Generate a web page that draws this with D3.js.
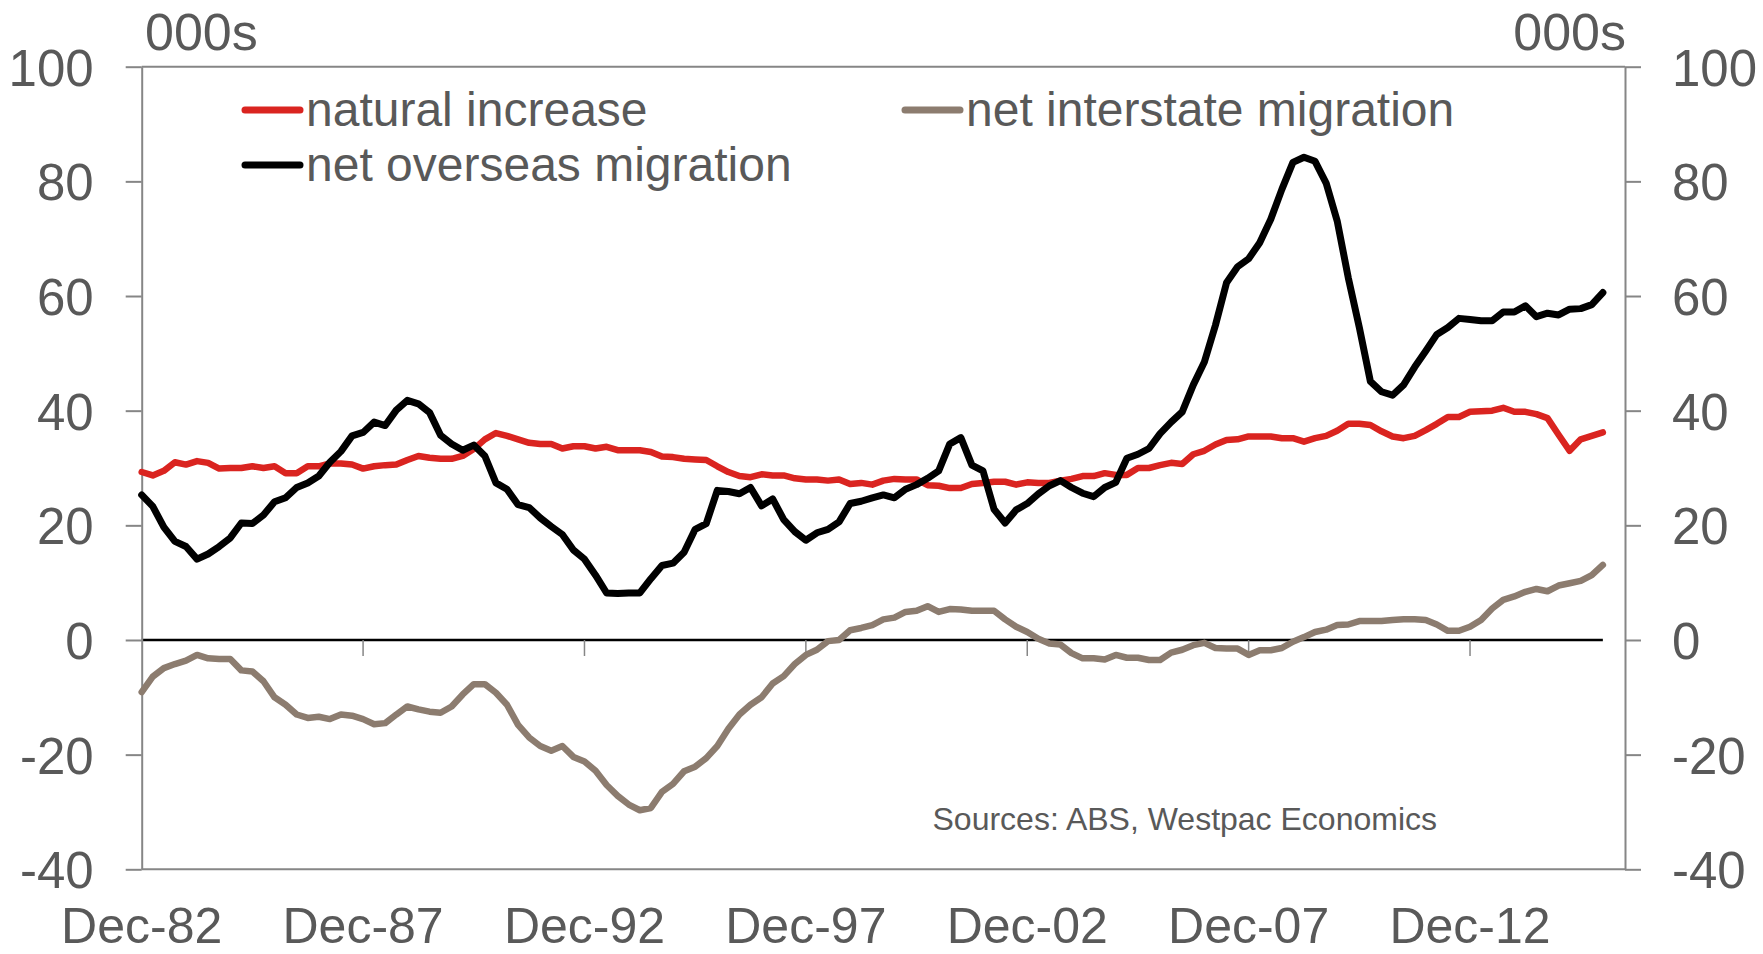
<!DOCTYPE html>
<html>
<head>
<meta charset="utf-8">
<script src="https://cdn.jsdelivr.net/npm/d3@7"></script>
<style>
  html, body { margin: 0; padding: 0; background: #ffffff; }
  svg { display: block; }
  text { font-family: "Liberation Sans", Arial, sans-serif; fill: #595959; }
</style>
</head>
<body>
<svg id="chart" width="1763" height="954"></svg>
<script>
// ---------- DATA (quarterly, Dec-82 .. Dec-15, thousands) ----------
const categories = d3.timeMonth.range(new Date(1982, 11, 1), new Date(2016, 0, 1), 3);

const naturalIncrease = [
  29.3, 28.7, 29.5, 31.0, 30.6, 31.2, 30.9, 29.9, 30.0, 30.0,
  30.3, 30.0, 30.3, 29.1, 29.1, 30.3, 30.3, 30.8, 30.8, 30.6,
  29.9, 30.3, 30.5, 30.6, 31.4, 32.1, 31.8, 31.6, 31.6, 32.1,
  33.3, 35.0, 36.1, 35.6, 35.0, 34.4, 34.2, 34.2, 33.4, 33.8,
  33.8, 33.4, 33.7, 33.1, 33.1, 33.1, 32.8, 32.0, 31.9, 31.6,
  31.5, 31.4, 30.3, 29.3, 28.6, 28.4, 28.9, 28.7, 28.7, 28.2,
  28.0, 28.0, 27.8, 28.0, 27.2, 27.4, 27.1, 27.8, 28.1, 28.0,
  28.0, 27.0, 26.9, 26.5, 26.5, 27.2, 27.4, 27.6, 27.6, 27.1,
  27.5, 27.4, 27.4, 27.8, 28.1, 28.6, 28.6, 29.1, 28.8, 28.8,
  30.0, 30.0, 30.5, 30.9, 30.7, 32.4, 33.0, 34.1, 34.9, 35.0,
  35.5, 35.5, 35.5, 35.2, 35.2, 34.6, 35.2, 35.6, 36.5, 37.7,
  37.7, 37.5, 36.4, 35.5, 35.2, 35.6, 36.6, 37.7, 38.9, 38.9,
  39.8, 39.9, 40.0, 40.5, 39.8, 39.8, 39.4, 38.7, 35.8, 33.0,
  35.0, 35.6, 36.2
];

const netInterstate = [
  -9.1, -6.4, -4.9, -4.2, -3.6, -2.6, -3.2, -3.3, -3.3, -5.3,
  -5.5, -7.2, -10.0, -11.3, -13.0, -13.6, -13.4, -13.8, -13.0, -13.2,
  -13.8, -14.7, -14.5, -13.0, -11.6, -12.1, -12.5, -12.7, -11.6, -9.5,
  -7.7, -7.7, -9.2, -11.3, -14.8, -17.0, -18.5, -19.3, -18.5, -20.4,
  -21.2, -22.8, -25.3, -27.2, -28.7, -29.7, -29.3, -26.5, -25.1, -22.9,
  -22.1, -20.6, -18.5, -15.5, -13.0, -11.3, -10.0, -7.6, -6.3, -4.2,
  -2.6, -1.7, -0.2, 0.0, 1.7, 2.1, 2.6, 3.6, 3.9, 4.9,
  5.1, 5.9, 4.9, 5.4, 5.3, 5.1, 5.1, 5.1, 3.6, 2.3,
  1.4, 0.2, -0.6, -0.8, -2.3, -3.2, -3.2, -3.4, -2.6, -3.1,
  -3.1, -3.5, -3.5, -2.2, -1.7, -0.9, -0.5, -1.4, -1.5, -1.5,
  -2.6, -1.8, -1.8, -1.4, -0.3, 0.5, 1.4, 1.8, 2.6, 2.7,
  3.3, 3.3, 3.3, 3.5, 3.6, 3.6, 3.5, 2.7, 1.6, 1.6,
  2.3, 3.5, 5.5, 7.0, 7.6, 8.4, 8.9, 8.5, 9.5, 9.9,
  10.3, 11.3, 13.1
];

const netOverseas = [
  25.3, 23.3, 19.7, 17.2, 16.3, 14.1, 15.0, 16.3, 17.8, 20.4,
  20.3, 21.8, 24.1, 24.8, 26.6, 27.4, 28.6, 31.0, 32.9, 35.6,
  36.2, 38.0, 37.4, 40.1, 41.8, 41.2, 39.7, 35.7, 34.2, 33.1,
  34.0, 32.1, 27.4, 26.3, 23.6, 23.1, 21.3, 19.8, 18.4, 15.7,
  14.1, 11.3, 8.2, 8.1, 8.2, 8.2, 10.7, 13.0, 13.4, 15.3,
  19.3, 20.3, 26.1, 25.9, 25.5, 26.6, 23.4, 24.6, 21.0, 18.9,
  17.4, 18.7, 19.3, 20.6, 23.8, 24.2, 24.8, 25.3, 24.8, 26.3,
  27.1, 28.2, 29.5, 34.2, 35.3, 30.5, 29.5, 22.8, 20.4, 22.7,
  23.8, 25.5, 26.9, 27.8, 26.6, 25.6, 25.0, 26.6, 27.5, 31.7,
  32.4, 33.4, 36.0, 38.0, 39.8, 44.5, 48.5, 54.9, 62.3, 65.1,
  66.5, 69.3, 73.4, 78.6, 83.3, 84.2, 83.5, 79.7, 73.1, 63.2,
  54.5, 45.1, 43.3, 42.7, 44.5, 47.6, 50.4, 53.3, 54.5, 56.1,
  55.9, 55.7, 55.7, 57.2, 57.2, 58.3, 56.4, 57.0, 56.7, 57.7,
  57.8, 58.5, 60.6
];

const yTicks = [-40, -20, 0, 20, 40, 60, 80, 100];
const xTickLabels = ["Dec-82", "Dec-87", "Dec-92", "Dec-97", "Dec-02", "Dec-07", "Dec-12"];
const seriesNames = ["natural increase", "net interstate migration", "net overseas migration"];
const unitLabel = "000s";
const sourceText = "Sources: ABS, Westpac Economics";

// ---------- LAYOUT ----------
const plotLeft = 141.7, plotRight = 1625, plotTop = 66.7, plotBottom = 869.3;
const axisColor = "#868686";
const textColor = "#595959";
const colors = { nat: "#da2420", inter: "#8c7c6f", over: "#000000" };

const svg = d3.select("#chart");

const x = d3.scaleLinear().domain([0, 134]).range([plotLeft, plotRight]);
const y = d3.scaleLinear().domain([-40, 100]).range([plotBottom, plotTop]);

const fmtCat = d3.timeFormat("%b-%y");
const xTickIdx = xTickLabels.map(lbl => categories.findIndex(d => fmtCat(d) === lbl));

// zero (category) line, under the series
svg.append("line")
  .attr("x1", x(0)).attr("x2", x(categories.length - 1))
  .attr("y1", y(0)).attr("y2", y(0))
  .attr("stroke", "#000").attr("stroke-width", 2.5);

// x ticks hanging from zero line
svg.append("g").selectAll("line").data(xTickIdx.filter(i => i > 0)).join("line")
  .attr("x1", d => x(d)).attr("x2", d => x(d))
  .attr("y1", y(0)).attr("y2", y(0) + 16)
  .attr("stroke", axisColor).attr("stroke-width", 1.5);

// Left / right axes
const fmtY = d => String(d);
const leftAxis = d3.axisLeft(y).tickValues(yTicks).tickFormat(fmtY).tickSize(16).tickSizeOuter(0).tickPadding(32);
const gL = svg.append("g").attr("transform", `translate(${plotLeft},0)`).call(leftAxis);
const rightAxis = d3.axisRight(y).tickValues(yTicks).tickFormat(fmtY).tickSize(16).tickSizeOuter(0).tickPadding(31);
const gR = svg.append("g").attr("transform", `translate(${plotRight},0)`).call(rightAxis);

[gL, gR].forEach(g => {
  g.select(".domain").attr("stroke", axisColor).attr("stroke-width", 2);
  g.selectAll(".tick line").attr("stroke", axisColor).attr("stroke-width", 2);
  g.selectAll(".tick text")
    .attr("dy", "0.36em")
    .style("font-family", '"Liberation Sans", Arial, sans-serif')
    .style("font-size", "51px")
    .style("fill", textColor);
});

// top / bottom borders
[plotTop, plotBottom].forEach(yy => {
  svg.append("line")
    .attr("x1", plotLeft).attr("x2", plotRight)
    .attr("y1", yy).attr("y2", yy)
    .attr("stroke", axisColor).attr("stroke-width", 2);
});

// x labels
svg.append("g").selectAll("text").data(xTickLabels).join("text")
  .attr("x", (d, i) => x(xTickIdx[i]))
  .attr("y", 943)
  .attr("text-anchor", "middle")
  .style("font-size", "50px")
  .text(d => d);

// unit labels
svg.append("text").attr("x", 145).attr("y", 50).style("font-size", "52px").text(unitLabel);
svg.append("text").attr("x", plotRight + 1).attr("y", 50).attr("text-anchor", "end").style("font-size", "52px").text(unitLabel);

// series
const line = d3.line().x((d, i) => x(i)).y(d => y(d));
const series = [
  { values: naturalIncrease, color: colors.nat, w: 6.5 },
  { values: netInterstate, color: colors.inter, w: 6.5 },
  { values: netOverseas, color: colors.over, w: 7 }
];
svg.append("g").selectAll("path").data(series).join("path")
  .attr("d", d => line(d.values))
  .attr("fill", "none")
  .attr("stroke", d => d.color)
  .attr("stroke-width", d => d.w)
  .attr("stroke-linejoin", "round")
  .attr("stroke-linecap", "round");

// legend
const legendItems = [
  { name: seriesNames[0], color: colors.nat, lx: 245, ly: 110 },
  { name: seriesNames[1], color: colors.inter, lx: 905, ly: 110 },
  { name: seriesNames[2], color: colors.over, lx: 245, ly: 165 }
];
const lg = svg.append("g").selectAll("g").data(legendItems).join("g");
lg.append("line")
  .attr("x1", d => d.lx).attr("x2", d => d.lx + 55)
  .attr("y1", d => d.ly).attr("y2", d => d.ly)
  .attr("stroke", d => d.color).attr("stroke-width", 7).attr("stroke-linecap", "round");
lg.append("text")
  .attr("x", d => d.lx + 61).attr("y", d => d.ly + 16)
  .style("font-size", "48px")
  .text(d => d.name);

// source
svg.append("text").attr("x", 1437).attr("y", 830).attr("text-anchor", "end")
  .style("font-size", "32px").text(sourceText);
</script>
</body>
</html>
